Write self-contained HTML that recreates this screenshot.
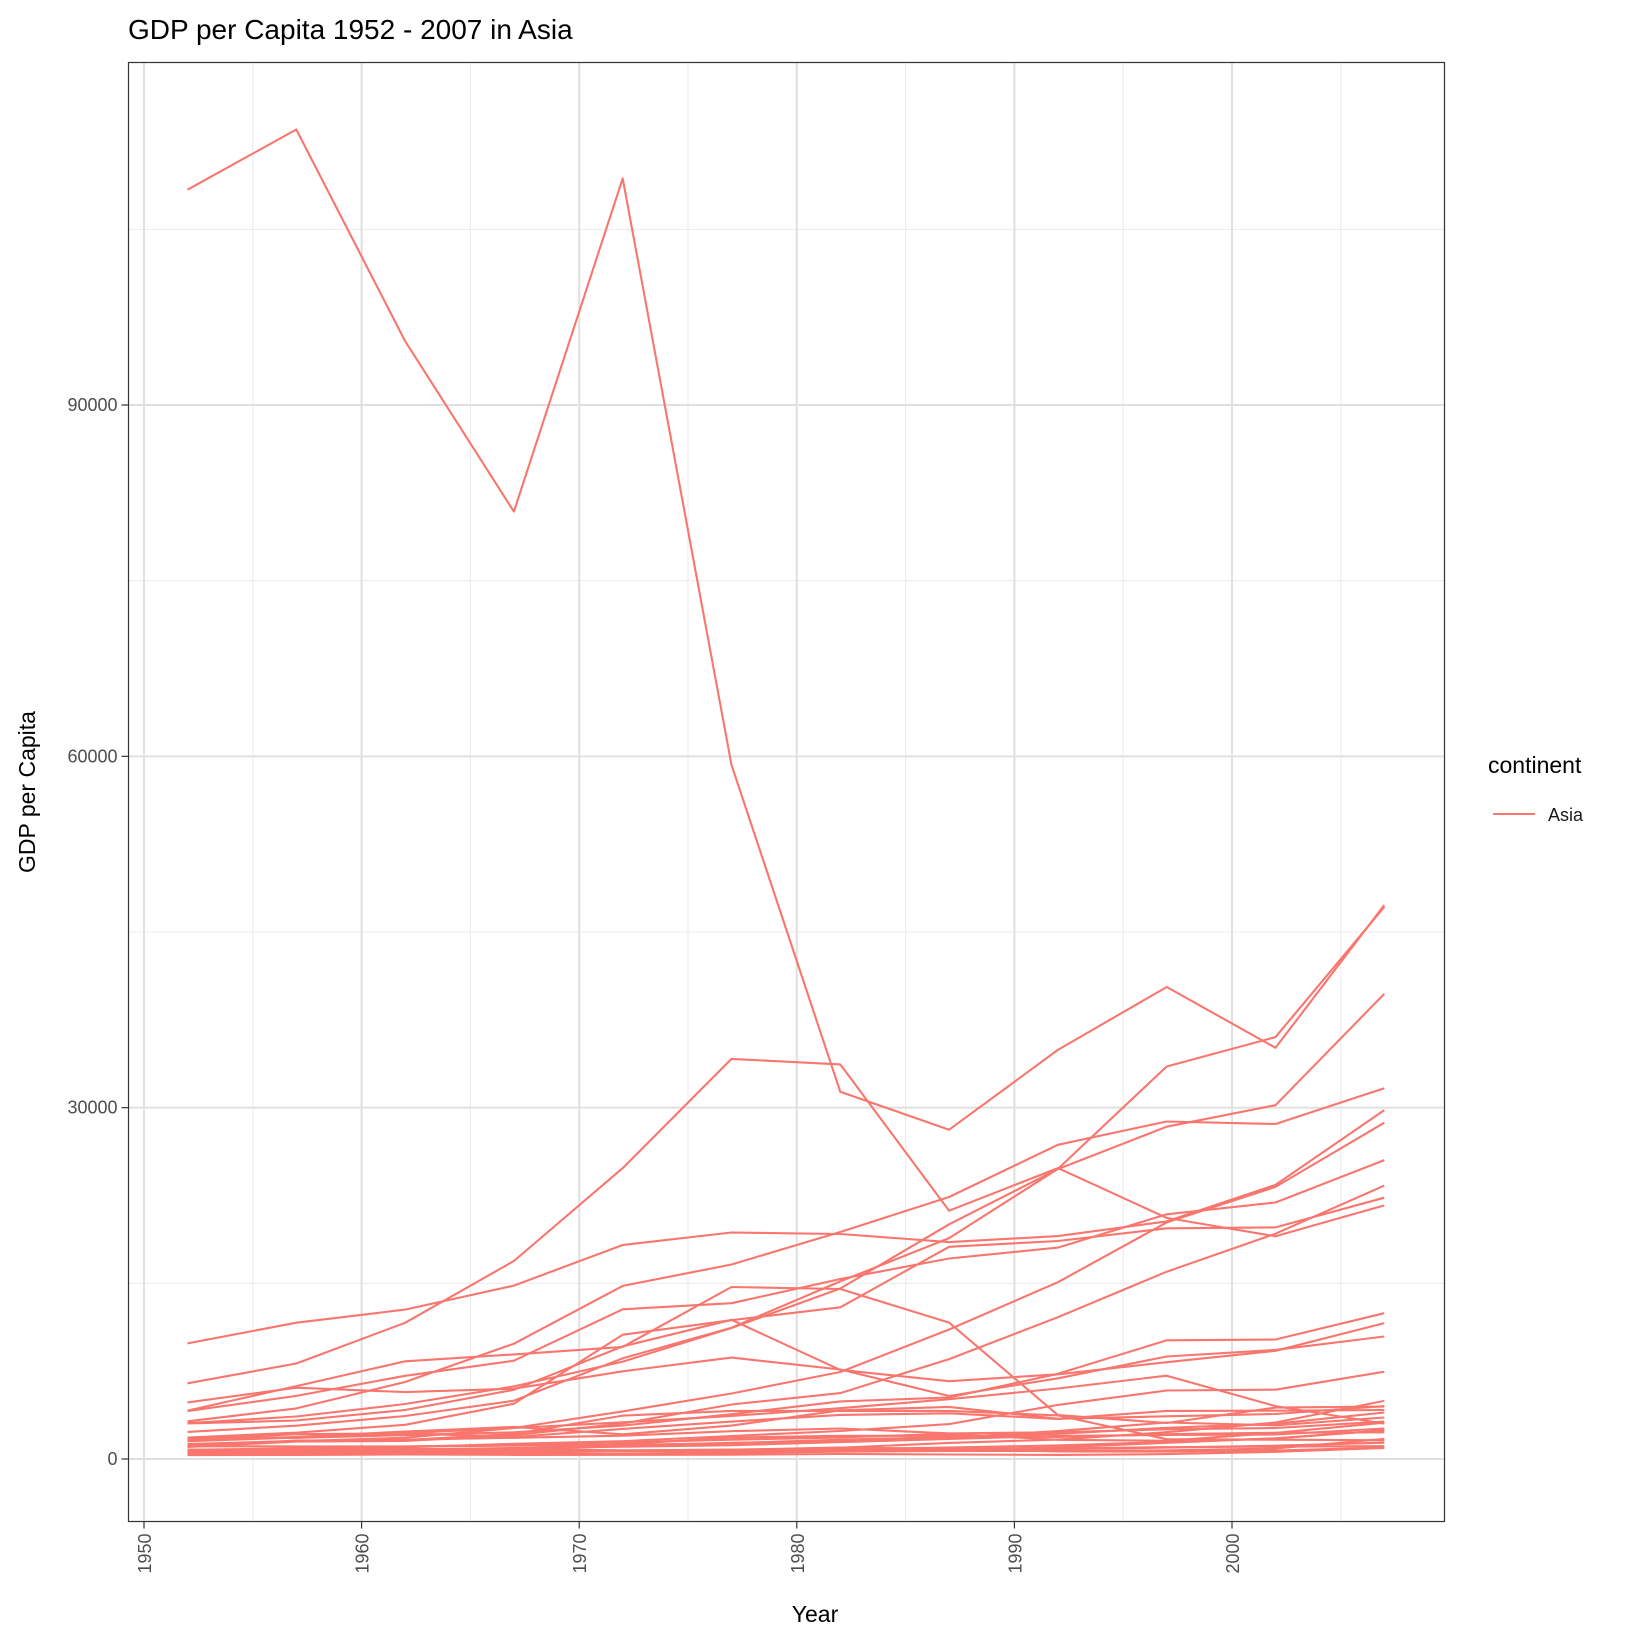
<!DOCTYPE html>
<html><head><meta charset="utf-8">
<style>
html,body{margin:0;padding:0;background:#fff;}
svg text{font-family:"Liberation Sans",Arial,sans-serif;}
</style></head>
<body>
<svg id="s" width="1632" height="1632" xmlns="http://www.w3.org/2000/svg">
<rect width="1632" height="1632" fill="#fff"/>
<g id="grid"></g>
<g id="lines" fill="none" stroke="#F8766D" stroke-width="2.1" stroke-linejoin="round"></g>
<rect x="128.5" y="62.5" width="1316" height="1459" fill="none" stroke="#333" stroke-width="1.2"/>
<g id="axes"></g>
<text x="128" y="39" font-size="28" fill="#000">GDP per Capita 1952 - 2007 in Asia</text>
<text x="815" y="1622" font-size="23" text-anchor="middle" fill="#000">Year</text>
<text transform="translate(35,792) rotate(-90)" font-size="23" text-anchor="middle" fill="#000">GDP per Capita</text>
<text x="1488" y="773" font-size="23" fill="#000">continent</text>
<line x1="1493" y1="814" x2="1535" y2="814" stroke="#F8766D" stroke-width="2.1"/>
<text x="1548" y="821" font-size="18" fill="#1a1a1a">Asia</text>
</svg>
<script>
var X0=144,XS=(1232-144)/50; // px per year, 1950 at 144
function X(y){return X0+(y-1950)*XS;}
var Y0=1459,YS=(1459-405)/90000;
function Y(v){return Y0-v*YS;}
var ns="http://www.w3.org/2000/svg";
function el(p,t,a){var e=document.createElementNS(ns,t);for(var k in a)e.setAttribute(k,a[k]);p.appendChild(e);return e;}
var g=document.getElementById('grid'),ax=document.getElementById('axes');
var L=128.5,R=1444.5,T=62.5,B=1521.5;
[1955,1965,1975,1985,1995,2005].forEach(function(y){el(g,'line',{x1:X(y),x2:X(y),y1:T,y2:B,stroke:'#ebebeb','stroke-width':1});});
[15000,45000,75000,105000].forEach(function(v){el(g,'line',{x1:L,x2:R,y1:Y(v),y2:Y(v),stroke:'#ebebeb','stroke-width':1});});
[1950,1960,1970,1980,1990,2000].forEach(function(y){el(g,'line',{x1:X(y),x2:X(y),y1:T,y2:B,stroke:'#e0e0e0','stroke-width':2});
 el(ax,'line',{x1:X(y),x2:X(y),y1:B,y2:B+7,stroke:'#333','stroke-width':1.2});
 var t=el(ax,'text',{transform:'translate('+(X(y)+7)+','+(B+12)+') rotate(-90)','font-size':18,'text-anchor':'end',fill:'#4d4d4d'});t.textContent=y;});
[0,30000,60000,90000].forEach(function(v){el(g,'line',{x1:L,x2:R,y1:Y(v),y2:Y(v),stroke:'#e0e0e0','stroke-width':2});
 el(ax,'line',{x1:L-7,x2:L,y1:Y(v),y2:Y(v),stroke:'#333','stroke-width':1.2});
 var t=el(ax,'text',{x:L-11,y:Y(v)+6,'font-size':18,'text-anchor':'end',fill:'#4d4d4d'});t.textContent=v;});
var D=[
[108382,113523,95458,80895,109348,59265,31354,28118,34933,40301,35110,47307],
[6460,8157,11626,16903,24837,34168,33693,21199,24841,20586,19015,21655],
[9867,11636,12753,14805,18269,19340,19211,18524,19036,20292,23404,29796],
[3217,4318,6577,9848,14779,16610,19384,22376,26825,28817,28605,31656],
[2315,2844,3675,4977,8597,11210,15169,18862,24769,33519,36023,47143],
[3054,3629,4693,6198,8316,11186,14561,20038,24758,28378,30209,39725],
[1207,1508,1823,2644,4063,5597,7426,11055,15098,20207,23235,28718],
[1031,1488,1536,2029,3031,4657,5623,8533,12104,15994,19234,23348],
[4087,5385,7106,8394,12787,13307,15367,17123,18052,20897,21906,25523],
[1828,2243,2924,4721,10618,11849,12955,18116,18617,19702,19775,22316],
[4130,6229,8342,8931,9576,14688,14517,11644,3745,3076,4391,4471],
[3035,3290,4187,5906,9613,11889,7608,6642,7236,8264,9241,11606],
[4835,6090,5716,6006,7486,8659,7641,5377,6891,8755,9314,10461],
[1831,1810,2037,2278,2849,3828,4920,5249,7278,10133,10207,12452],
[757,793,1002,1295,1524,1961,2393,2982,4616,5852,5914,7458],
[1547,1886,2348,2741,2110,2852,4162,4448,3431,3645,3844,4519],
[786,912,1056,1226,1421,1648,1842,2155,1639,1558,2227,3096],
[1088,1571,1622,2144,3702,4106,4106,4106,3726,1690,1647,1593],
[1083,1072,1074,1136,1213,1348,1648,1877,2154,2665,3015,3970],
[1516,1827,2199,2650,3133,3683,4337,5108,6018,7111,4516,3025],
[1644,2117,2194,1882,2571,3195,3762,3900,3422,4108,4125,4185],
[1273,1548,1650,1814,1989,2374,2604,2190,2279,2537,2650,3190],
[750,859,849,763,1111,1383,1517,1822,2383,3120,2874,3541],
[400,576,488,613,677,741,962,1379,1656,2289,3119,4959],
[547,590,658,700,724,813,856,977,1164,1458,1747,2452],
[685,748,804,943,1050,1176,1444,1705,1972,2049,2093,2606],
[782,805,826,862,1266,1830,1978,1972,1879,2117,2235,2281],
[605,676,772,637,700,714,707,821,989,1386,1764,2442],
[779,821,853,836,740,786,978,852,649,635,727,975],
[684,662,686,721,630,660,677,752,838,973,1136,1391],
[368,434,497,523,422,525,624,684,682,734,896,1714],
[331,350,388,349,357,371,424,385,347,415,611,944],
[546,598,652,676,674,695,718,775,897,1011,1057,1091]];
var lg=document.getElementById('lines');
D.forEach(function(s){var p=s.map(function(v,i){return X(1952+5*i).toFixed(1)+','+Y(v).toFixed(1);}).join(' ');
 el(lg,'polyline',{points:p});});
</script>
</body></html>
